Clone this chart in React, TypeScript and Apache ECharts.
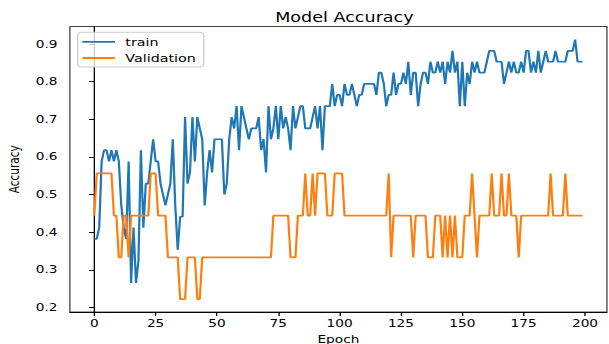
import React, { useEffect, useRef } from "react";
import * as echarts from "echarts";

// Train accuracy, epochs 0-199
const trainA = [
  0.382, 0.382, 0.412, 0.588, 0.618, 0.618, 0.588, 0.618, 0.588, 0.618,
  0.588, 0.471, 0.412, 0.382, 0.588, 0.265, 0.412, 0.265, 0.324, 0.618,
  0.412, 0.529, 0.529, 0.588, 0.647, 0.588, 0.588, 0.529, 0.5, 0.471,
  0.5, 0.529, 0.647, 0.471, 0.353, 0.441, 0.441, 0.706, 0.529, 0.559,
  0.706, 0.588, 0.706, 0.676, 0.647, 0.471, 0.559, 0.618, 0.559, 0.647,
];
const trainB = [
  0.647, 0.647, 0.647, 0.5, 0.529, 0.647, 0.706, 0.676, 0.735, 0.618,
  0.735, 0.706, 0.676, 0.647, 0.676, 0.676, 0.676, 0.706, 0.618, 0.647,
  0.559, 0.735, 0.647, 0.676, 0.735, 0.647, 0.735, 0.676, 0.706, 0.676,
  0.618, 0.735, 0.676, 0.706, 0.735, 0.735, 0.676, 0.676, 0.676, 0.706,
  0.735, 0.676, 0.735, 0.618, 0.735, 0.735, 0.735, 0.794, 0.735, 0.765,
];
const trainC = [
  0.765, 0.735, 0.794, 0.765, 0.765, 0.794, 0.765, 0.735, 0.765, 0.765,
  0.794, 0.794, 0.794, 0.794, 0.794, 0.765, 0.824, 0.824, 0.794, 0.735,
  0.765, 0.765, 0.824, 0.765, 0.794, 0.794, 0.824, 0.794, 0.853, 0.765,
  0.824, 0.824, 0.735, 0.794, 0.824, 0.824, 0.794, 0.853, 0.824, 0.824,
  0.853, 0.824, 0.853, 0.794, 0.853, 0.824, 0.882, 0.824, 0.853, 0.735,
];
const trainD = [
  0.853, 0.735, 0.824, 0.794, 0.853, 0.824, 0.853, 0.824, 0.824, 0.824,
  0.853, 0.882, 0.882, 0.882, 0.853, 0.853, 0.853, 0.794, 0.824, 0.853,
  0.824, 0.853, 0.824, 0.824, 0.853, 0.824, 0.882, 0.882, 0.824, 0.853,
  0.824, 0.882, 0.824, 0.853, 0.882, 0.853, 0.853, 0.853, 0.882, 0.853,
  0.853, 0.853, 0.853, 0.882, 0.882, 0.882, 0.912, 0.853, 0.853, 0.853,
];

// Validation accuracy, epochs 0-199
const valA = [
  0.444, 0.556, 0.556, 0.556, 0.556, 0.556, 0.556, 0.556, 0.444, 0.444,
  0.333, 0.333, 0.444, 0.444, 0.333, 0.444, 0.444, 0.444, 0.444, 0.444,
  0.444, 0.444, 0.444, 0.556, 0.556, 0.556, 0.444, 0.444, 0.444, 0.444,
  0.333, 0.333, 0.333, 0.333, 0.333, 0.222, 0.222, 0.222, 0.333, 0.333,
  0.333, 0.333, 0.222, 0.222, 0.333, 0.333, 0.333, 0.333, 0.333, 0.333,
];
const valB = [
  0.333, 0.333, 0.333, 0.333, 0.333, 0.333, 0.333, 0.333, 0.333, 0.333,
  0.333, 0.333, 0.333, 0.333, 0.333, 0.333, 0.333, 0.333, 0.333, 0.333,
  0.333, 0.333, 0.333, 0.444, 0.444, 0.444, 0.444, 0.444, 0.444, 0.444,
  0.333, 0.333, 0.333, 0.444, 0.444, 0.444, 0.556, 0.444, 0.444, 0.556,
  0.444, 0.556, 0.556, 0.556, 0.556, 0.444, 0.444, 0.444, 0.556, 0.556,
];
const valC = [
  0.556, 0.556, 0.444, 0.444, 0.444, 0.444, 0.444, 0.444, 0.444, 0.444,
  0.444, 0.444, 0.444, 0.444, 0.444, 0.444, 0.444, 0.444, 0.444, 0.444,
  0.556, 0.333, 0.444, 0.444, 0.444, 0.444, 0.444, 0.444, 0.444, 0.444,
  0.333, 0.444, 0.444, 0.444, 0.444, 0.444, 0.333, 0.333, 0.333, 0.444,
  0.444, 0.444, 0.333, 0.444, 0.333, 0.444, 0.333, 0.444, 0.333, 0.333,
];
const valD = [
  0.333, 0.444, 0.444, 0.444, 0.556, 0.444, 0.333, 0.444, 0.444, 0.444,
  0.444, 0.444, 0.556, 0.444, 0.444, 0.444, 0.556, 0.444, 0.444, 0.556,
  0.444, 0.444, 0.444, 0.333, 0.444, 0.444, 0.444, 0.444, 0.444, 0.444,
  0.444, 0.444, 0.444, 0.444, 0.444, 0.444, 0.556, 0.444, 0.444, 0.444,
  0.444, 0.444, 0.556, 0.444, 0.444, 0.444, 0.444, 0.444, 0.444, 0.444,
];

const xTickValues = [0, 25, 50, 75, 100, 125, 150, 175, 200];
const yTickValues = [0.2, 0.3, 0.4, 0.5, 0.6, 0.7, 0.8, 0.9];
const seriesNames = ["train", "Validation"];

const train = trainA.concat(trainB, trainC, trainD);
const validation = valA.concat(valB, valC, valD);

// The reference image is stretched horizontally; draw at a narrower width and stretch.
const W = 468;
const H = 344;
const SX = 609 / W;
const FONT = "DejaVu Sans";
// legend handle: a thin horizontal stroke centred in a 25x12 box
const LINE_ICON = "path://M0,0M0,5.1H25V6.9H0ZM25,12";

export default function App() {
  const ref = useRef<HTMLDivElement>(null);
  useEffect(() => {
    if (!ref.current) return;
    const chart = echarts.init(ref.current, null, { renderer: "svg", width: W, height: H });
    const option: any = {
      animation: false,
      backgroundColor: "#ffffff",
      title: {
        text: "Model Accuracy",
        left: 259.7,
        top: 5,
        textAlign: "center",
        textStyle: { fontFamily: FONT, fontSize: 13.5, fontWeight: "normal", color: "#000" },
      },
      legend: {
        data: seriesNames,
        icon: LINE_ICON,
        orient: "vertical",
        left: 59.7,
        top: 32.3,
        itemWidth: 25,
        itemHeight: 12,
        itemGap: 4.2,
        padding: [3.5, 6, 3, 3.6],
        borderColor: "#cccccc",
        borderWidth: 1,
        borderRadius: 3,
        backgroundColor: "rgba(255,255,255,0.8)",
        textStyle: { fontFamily: FONT, fontSize: 11, color: "#000", padding: [0, 0, 0, 3] },
      },
      grid: {
        left: 53.7,
        right: 1.6,
        top: 26.6,
        bottom: 32,
        show: true,
        borderColor: "#444",
        borderWidth: 1,
        containLabel: false,
        outerBoundsMode: "none",
      },
      xAxis: {
        type: "value",
        min: -9.95,
        max: 208.95,
        name: "Epoch",
        nameLocation: "middle",
        nameGap: 19,
        nameTextStyle: { fontFamily: FONT, fontSize: 10.5, color: "#000" },
        axisLine: { show: true, lineStyle: { color: "#000", width: 1 } },
        axisTick: { show: true, length: 4, customValues: xTickValues, lineStyle: { color: "#000" } },
        axisLabel: {
          customValues: xTickValues,
          margin: 6,
          fontFamily: FONT,
          fontSize: 10.5,
          color: "#000",
        },
        splitLine: { show: false },
      },
      yAxis: {
        type: "value",
        min: 0.1877,
        max: 0.9465,
        name: "Accuracy",
        nameLocation: "middle",
        nameRotate: 90,
        nameGap: 32,
        nameTextStyle: { fontFamily: FONT, fontSize: 10.5, color: "#000" },
        axisLine: { show: true, lineStyle: { color: "#000", width: 1 } },
        axisTick: { show: true, length: 4, customValues: yTickValues, lineStyle: { color: "#000" } },
        axisLabel: {
          customValues: yTickValues,
          margin: 9.5,
          fontFamily: FONT,
          fontSize: 10.5,
          color: "#000",
          formatter: (v: number) => v.toFixed(1),
        },
        splitLine: { show: false },
      },
      series: [
        {
          name: seriesNames[0],
          type: "line",
          symbol: "none",
          data: train.map((v, i) => [i, v]),
          lineStyle: { color: "#1f77b4", width: 1.7 },
          itemStyle: { color: "#1f77b4" },
        },
        {
          name: seriesNames[1],
          type: "line",
          symbol: "none",
          data: validation.map((v, i) => [i, v]),
          lineStyle: { color: "#ff7f0e", width: 1.7 },
          itemStyle: { color: "#ff7f0e" },
        },
      ],
    };
    chart.setOption(option);
    return () => chart.dispose();
  }, []);
  return (
    <div
      ref={ref}
      style={{
        position: "absolute",
        left: 0,
        top: 0,
        width: W,
        height: H,
        transform: `scaleX(${SX})`,
        transformOrigin: "0 0",
        background: "#fff",
      }}
    />
  );
}
